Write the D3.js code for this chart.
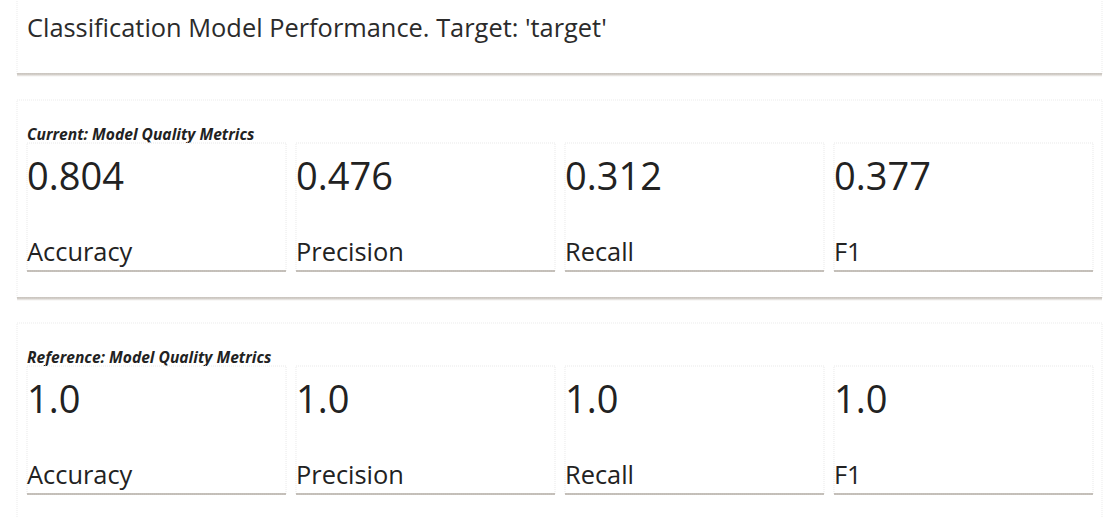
<!DOCTYPE html>
<html>
<head>
<meta charset="utf-8">
<script src="https://cdn.jsdelivr.net/npm/d3@7.9.0/dist/d3.min.js"></script>
<style>
  body { margin: 0; background: #fff; overflow: hidden; }
  svg { display: block; font-family: "Open Sans", "Noto Sans", sans-serif; }
</style>
</head>
<body>
<svg width="1109" height="517"></svg>
<script>
const title = "Classification Model Performance. Target: 'target'";
const metrics = ['Accuracy', 'Precision', 'Recall', 'F1'];
const currentValues = [0.804, 0.476, 0.312, 0.377];
const referenceValues = [1.0, 1.0, 1.0, 1.0];
const sections = ['Current: Model Quality Metrics', 'Reference: Model Quality Metrics'];

const svg = d3.select('svg');
const fmt = (v) => (Number.isInteger(v) ? v.toFixed(1) : String(v));

const x = d3.scaleBand().domain(metrics).range([27, 1093]).paddingInner(0.037);

// outer card with a soft shadowed bottom edge
function card(y, h) {
  svg.append('rect')
    .attr('x', 17).attr('y', y).attr('width', 1085).attr('height', h)
    .attr('fill', '#fff')
    .attr('stroke', '#ebebeb').attr('stroke-dasharray', '1,1');
  svg.append('line')
    .attr('x1', 17).attr('x2', 1102).attr('y1', y + h).attr('y2', y + h)
    .attr('stroke', '#bdb6ae').attr('stroke-width', 1.5);
  svg.append('line')
    .attr('x1', 17).attr('x2', 1102).attr('y1', y + h + 1.5).attr('y2', y + h + 1.5)
    .attr('stroke', '#e6e3e0').attr('stroke-width', 1.5);
}

// title card
card(-4, 78);
svg.append('text')
  .attr('x', 27).attr('y', 37)
  .attr('font-size', 25.4).attr('fill', '#2b2b2b')
  .text(title);

// metric cards
const blocks = [
  { label: sections[0], values: currentValues, top: 100 },
  { label: sections[1], values: referenceValues, top: 323 }
];

blocks.forEach((b) => {
  card(b.top, 198);

  svg.append('text')
    .attr('x', 27).attr('y', b.top + 40)
    .attr('font-size', 15.6).attr('font-weight', 'bold').attr('font-style', 'italic')
    .attr('fill', '#222')
    .text(b.label);

  const g = svg.append('g').attr('transform', `translate(0,${b.top + 43})`);
  const boxes = g.selectAll('g.box')
    .data(metrics.map((m, i) => ({ name: m, value: b.values[i] })))
    .join('g')
    .attr('class', 'box')
    .attr('transform', (d) => `translate(${x(d.name)},0)`);

  boxes.append('rect')
    .attr('width', x.bandwidth()).attr('height', 128)
    .attr('fill', '#fff')
    .attr('stroke', '#e8e8e8').attr('stroke-dasharray', '1,1');
  boxes.append('line')
    .attr('x1', 0).attr('x2', x.bandwidth()).attr('y1', 128).attr('y2', 128)
    .attr('stroke', '#b3aca5').attr('stroke-width', 1.5);

  boxes.append('text')
    .attr('x', 0).attr('y', 47)
    .attr('font-size', 38).attr('fill', '#222')
    .text((d) => fmt(d.value));

  boxes.append('text')
    .attr('x', 0).attr('y', 118)
    .attr('font-size', 25.4).attr('fill', '#222')
    .text((d) => d.name);
});
</script>
</body>
</html>
